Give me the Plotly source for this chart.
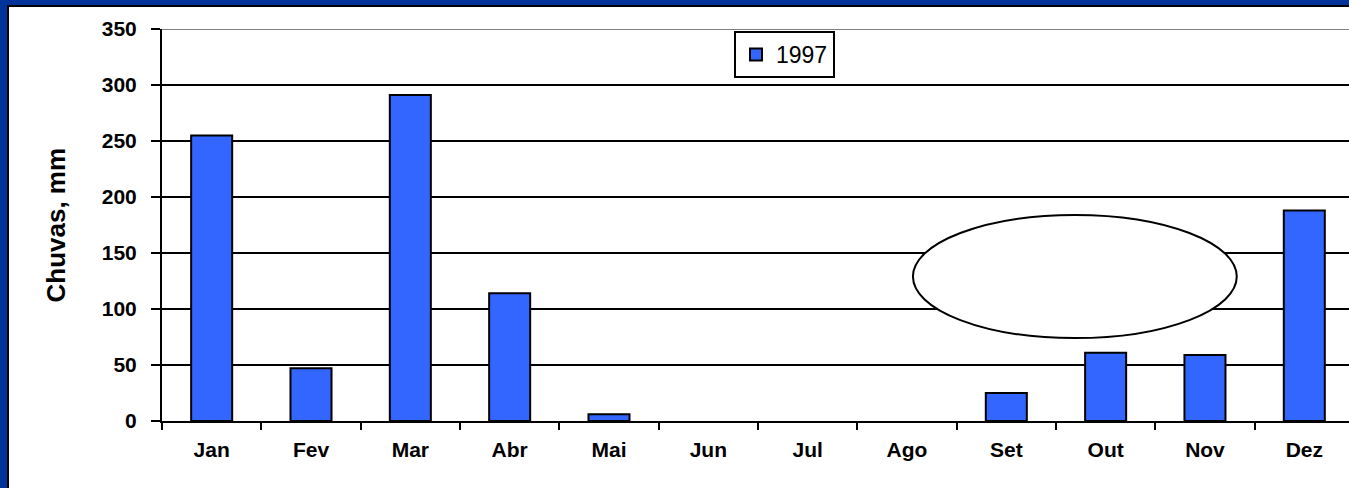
import plotly.graph_objects as go

months = ["Jan", "Fev", "Mar", "Abr", "Mai", "Jun", "Jul", "Ago", "Set", "Out", "Nov", "Dez"]
rain_1997 = [255, 47, 291, 114, 6, 0, 0, 0, 25, 61, 59, 188]
y_ticks = [0, 50, 100, 150, 200, 250, 300, 350]
series_name = "1997"
y_title = "Chuvas, mm"

FONT = "Arial, Liberation Sans, sans-serif"
L, R, T, B = 162, 0, 29, 67
W, H = 1349, 488
PW = W - L - R
PH = H - T - B


def px(x):
    return (x - L) / PW


def py(y):
    return (H - B - y) / PH


fig = go.Figure()
fig.add_trace(go.Bar(
    x=months, y=rain_1997, name=series_name,
    marker=dict(color="#3366FF",
                line=dict(color="black", width=[2 if v > 0 else 0 for v in rain_1997])),
    showlegend=True,
))

shapes = [
    # ellipse annotation
    dict(type="circle", xref="x", yref="y", x0=7.06, x1=10.32, y0=74, y1=184,
         line=dict(color="black", width=2), fillcolor="white", layer="above"),
    # grey top gridline
    dict(type="line", xref="paper", yref="y", x0=0, x1=1, y0=350, y1=350,
         line=dict(color="#808080", width=2), layer="above"),
    # slide frame: blue strips and black inner lines
    dict(type="rect", xref="paper", yref="paper", x0=px(0), x1=px(7), y0=py(488), y1=py(0),
         line=dict(width=0), fillcolor="#003399", layer="above"),
    dict(type="rect", xref="paper", yref="paper", x0=px(0), x1=px(1349), y0=py(5), y1=py(0),
         line=dict(width=0), fillcolor="#003399", layer="above"),
    dict(type="rect", xref="paper", yref="paper", x0=px(7), x1=px(9), y0=py(488), y1=py(5),
         line=dict(width=0), fillcolor="black", layer="above"),
    dict(type="rect", xref="paper", yref="paper", x0=px(7), x1=px(1349), y0=py(7), y1=py(5),
         line=dict(width=0), fillcolor="black", layer="above"),
]

fig.update_layout(
    width=W, height=H,
    margin=dict(l=L, r=R, t=T, b=B, pad=0),
    paper_bgcolor="white", plot_bgcolor="white",
    font=dict(family=FONT, color="black"),
    bargap=0.587,
    shapes=shapes,
    legend=dict(x=px(734), y=py(31), xanchor="left", yanchor="top",
                bgcolor="white", bordercolor="black", borderwidth=2,
                font=dict(family=FONT, size=23, color="black"),
                itemwidth=30),
    annotations=[dict(text=y_title, xref="paper", yref="paper", x=px(56), y=py(225.5),
                      xanchor="center", yanchor="middle", textangle=-90, showarrow=False,
                      font=dict(family=FONT, size=26, color="black", weight="bold"))],
)

fig.update_xaxes(
    type="category", range=[-0.5, 11.45],
    showline=True, linecolor="black", linewidth=2, layer="above traces",
    ticks="outside", tickson="boundaries", ticklen=7, tickwidth=2, tickcolor="black",
    ticklabelstandoff=9,
    tickfont=dict(family=FONT, size=21, color="black", weight="bold"),
    showgrid=False,
)
fig.update_yaxes(
    range=[0, 350], tickvals=y_ticks,
    showline=True, linecolor="black", linewidth=2,
    ticks="outside", ticklen=9, tickwidth=2, tickcolor="black",
    ticklabelstandoff=10,
    tickfont=dict(family=FONT, size=21, color="black", weight="bold"),
    showgrid=True, gridcolor="black", gridwidth=2, zeroline=False,
)

fig.write_html("out.html", config={"displayModeBar": False},
               post_script="document.body.style.margin='0px';document.body.style.overflow='hidden';")
